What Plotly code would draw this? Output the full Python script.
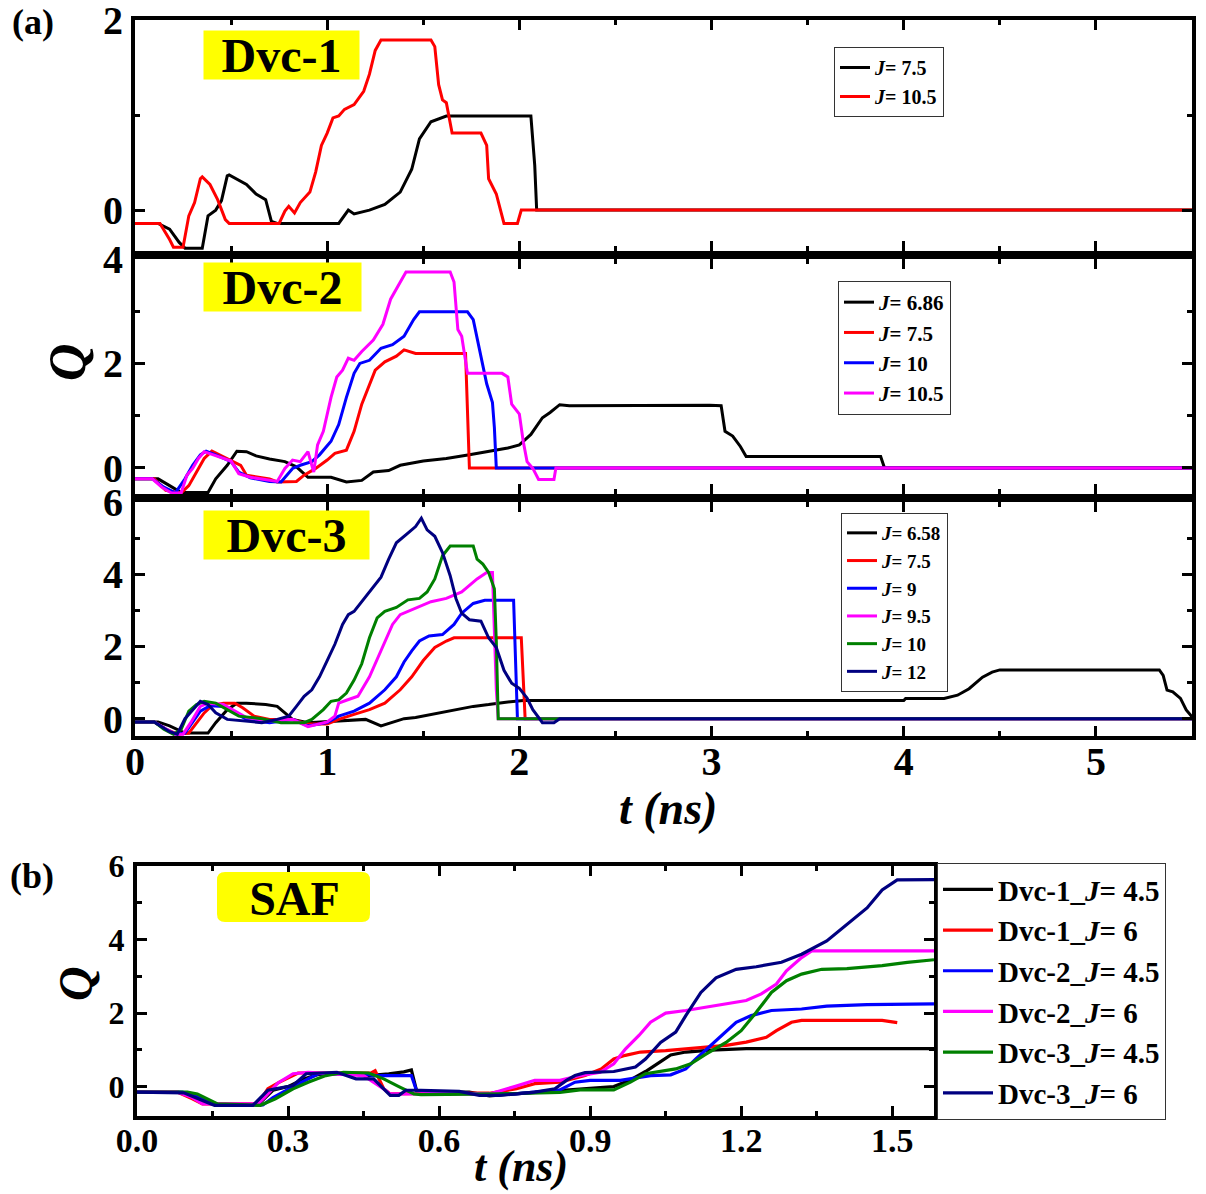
import plotly.graph_objects as go

# ---------------- data ----------------
# Panel (a) Dvc-1
d1_j75_t = [0, 0.12, 0.18, 0.23, 0.26, 0.35, 0.38, 0.42, 0.45, 0.48,
            0.49, 0.58, 0.63, 0.68, 0.71, 0.74, 1.06, 1.11, 1.14, 1.22,
            1.30, 1.38, 1.44, 1.48, 1.54, 1.62, 2.06, 2.08, 2.09, 5.5]
d1_j75_q = [-0.14, -0.14, -0.2, -0.34, -0.40, -0.40, -0.06, 0.0, 0.1, 0.36,
            0.37, 0.27, 0.17, 0.11, -0.12, -0.14, -0.14, 0.0, -0.04, 0.0,
            0.06, 0.19, 0.43, 0.75, 0.93, 0.99, 0.99, 0.47, 0.0, 0.0]
d1_j105_t = [0, 0.13, 0.18, 0.20, 0.25, 0.28, 0.31, 0.34, 0.35, 0.39,
             0.43, 0.47, 0.49, 0.75, 0.78, 0.80, 0.83, 0.86, 0.91, 0.94,
             0.97, 1.0, 1.03, 1.06, 1.09, 1.14, 1.19, 1.22, 1.25, 1.28,
             1.54, 1.56, 1.58, 1.60, 1.62, 1.65, 1.80, 1.83, 1.84, 1.88,
             1.92, 1.99, 2.01, 5.5]
d1_j105_q = [-0.14, -0.14, -0.31, -0.39, -0.39, -0.06, 0.08, 0.33, 0.35, 0.27,
             0.11, -0.10, -0.14, -0.14, -0.01, 0.04, -0.03, 0.08, 0.19, 0.40,
             0.68, 0.81, 0.97, 0.99, 1.06, 1.11, 1.25, 1.43, 1.68, 1.79,
             1.79, 1.72, 1.32, 1.16, 1.13, 0.81, 0.81, 0.68, 0.33, 0.17,
             -0.14, -0.14, 0.0, 0.0]

# Panel (a) Dvc-2
d2_j686_t = [0, 0.12, 0.18, 0.24, 0.38, 0.42, 0.48, 0.53, 0.58, 0.63,
             0.70, 0.78, 0.84, 0.90, 1.02, 1.10, 1.18, 1.24, 1.32, 1.38,
             1.50, 1.62, 1.74, 1.84, 1.94, 2.00, 2.06, 2.12, 2.16, 2.21,
             2.26, 2.99, 3.05, 3.07, 3.11, 3.15, 3.18, 3.88, 3.90, 5.5]
d2_j686_q = [-0.21, -0.21, -0.34, -0.47, -0.47, -0.21, 0.05, 0.32, 0.31, 0.23,
             0.17, 0.12, 0.02, -0.18, -0.18, -0.27, -0.24, -0.08, -0.05, 0.05,
             0.13, 0.18, 0.25, 0.31, 0.38, 0.44, 0.64, 0.96, 1.06, 1.21,
             1.19, 1.20, 1.19, 0.70, 0.61, 0.41, 0.22, 0.22, 0.0, 0.0]
d2_j75_t = [0, 0.10, 0.16, 0.24, 0.28, 0.32, 0.36, 0.40, 0.44, 0.50,
            0.55, 0.58, 0.70, 0.74, 0.84, 0.88, 0.94, 1.00, 1.04, 1.10,
            1.14, 1.18, 1.22, 1.25, 1.30, 1.36, 1.40, 1.46, 1.72, 1.74,
            5.5]
d2_j75_q = [-0.21, -0.21, -0.43, -0.48, -0.34, -0.08, 0.18, 0.32, 0.25, 0.15,
            0.05, -0.14, -0.21, -0.27, -0.26, -0.14, -0.01, 0.15, 0.28, 0.34,
            0.70, 1.22, 1.61, 1.87, 2.03, 2.14, 2.26, 2.19, 2.19, 0.0,
            0.0]
d2_j10_t = [0, 0.09, 0.15, 0.21, 0.26, 0.30, 0.34, 0.37, 0.42, 0.50,
            0.54, 0.60, 0.70, 0.76, 0.82, 0.86, 0.92, 0.96, 1.02, 1.06,
            1.10, 1.14, 1.17, 1.22, 1.28, 1.34, 1.40, 1.45, 1.48, 1.73,
            1.76, 1.80, 1.83, 1.86, 1.87, 1.88, 5.5]
d2_j10_q = [-0.21, -0.21, -0.37, -0.48, -0.21, 0.05, 0.25, 0.32, 0.25, 0.12,
            -0.08, -0.19, -0.26, -0.27, -0.01, 0.05, 0.12, 0.25, 0.51, 0.83,
            1.35, 1.81, 2.00, 2.06, 2.29, 2.36, 2.52, 2.84, 2.99, 2.99,
            2.84, 2.13, 1.61, 1.25, 0.77, 0.0, 0.0]
d2_j105_t = [0, 0.09, 0.14, 0.19, 0.24, 0.27, 0.30, 0.33, 0.36, 0.42,
             0.50, 0.54, 0.60, 0.74, 0.78, 0.82, 0.86, 0.90, 0.92, 0.93,
             0.95, 0.98, 1.02, 1.05, 1.08, 1.11, 1.14, 1.18, 1.24, 1.29,
             1.33, 1.36, 1.41, 1.64, 1.66, 1.68, 1.70, 1.73, 1.91, 1.94,
             1.96, 2.00, 2.02, 2.04, 2.07, 2.10, 2.18, 2.19, 5.5]
d2_j105_q = [-0.21, -0.21, -0.37, -0.48, -0.48, -0.14, -0.01, 0.18, 0.31, 0.23,
             0.13, -0.11, -0.18, -0.26, -0.01, 0.15, 0.12, 0.31, 0.05, -0.08,
             0.44, 0.70, 1.35, 1.74, 1.87, 2.10, 2.06, 2.23, 2.45, 2.75,
             3.23, 3.43, 3.75, 3.75, 3.56, 2.65, 2.52, 1.81, 1.81, 1.74,
             1.22, 1.03, 0.51, 0.12, -0.01, -0.22, -0.22, 0.0, 0.0]

# Panel (a) Dvc-3
d3_j658_t = [0, 0.12, 0.18, 0.26, 0.38, 0.42, 0.48, 0.53, 0.58, 0.68,
             0.74, 0.78, 0.82, 0.90, 1.06, 1.20, 1.28, 1.34, 1.40, 1.46,
             1.52, 1.60, 1.68, 1.76, 1.84, 1.92, 2.02, 4.00, 4.01, 4.21,
             4.28, 4.34, 4.41, 4.46, 4.50, 5.33, 5.35, 5.37, 5.40, 5.44,
             5.47, 5.5]
d3_j658_q = [-0.09, -0.09, -0.2, -0.40, -0.40, -0.11, 0.25, 0.43, 0.43, 0.39,
             0.34, 0.16, -0.02, -0.11, -0.06, -0.02, -0.2, -0.11, 0.0, 0.03,
             0.09, 0.16, 0.25, 0.34, 0.39, 0.45, 0.50, 0.50, 0.56, 0.56,
             0.65, 0.83, 1.15, 1.29, 1.35, 1.35, 1.2, 0.79, 0.74, 0.56,
             0.24, 0.05]
d3_j75_t = [0, 0.10, 0.16, 0.22, 0.28, 0.32, 0.36, 0.40, 0.46, 0.52,
            0.56, 0.62, 0.70, 0.82, 0.90, 1.00, 1.06, 1.14, 1.22, 1.30,
            1.38, 1.44, 1.50, 1.56, 1.62, 1.66, 2.01, 2.03, 5.5]
d3_j75_q = [-0.09, -0.09, -0.29, -0.43, -0.40, -0.11, 0.16, 0.36, 0.43, 0.43,
            0.30, 0.07, -0.02, -0.02, -0.15, -0.15, -0.02, 0.12, 0.25, 0.43,
            0.80, 1.16, 1.61, 1.97, 2.15, 2.24, 2.24, 0.0, 0.0]
d3_j9_t = [0, 0.10, 0.16, 0.21, 0.26, 0.30, 0.34, 0.39, 0.46, 0.52,
           0.58, 0.70, 0.82, 0.90, 1.00, 1.06, 1.14, 1.22, 1.30, 1.36,
           1.40, 1.44, 1.48, 1.53, 1.60, 1.66, 1.70, 1.76, 1.82, 1.97,
           1.99, 5.5]
d3_j9_q = [-0.09, -0.09, -0.29, -0.43, -0.40, -0.11, 0.21, 0.36, 0.34, 0.16,
           -0.02, -0.11, -0.02, -0.2, -0.11, 0.07, 0.21, 0.43, 0.80, 1.16,
           1.57, 1.88, 2.15, 2.29, 2.33, 2.61, 2.92, 3.19, 3.28, 3.28,
           0.0, 0.0]
d3_j95_t = [0, 0.10, 0.16, 0.21, 0.25, 0.29, 0.34, 0.38, 0.46, 0.52,
            0.58, 0.70, 0.82, 0.90, 1.00, 1.04, 1.06, 1.10, 1.16, 1.22,
            1.28, 1.34, 1.38, 1.42, 1.48, 1.54, 1.62, 1.70, 1.78, 1.83,
            1.86, 1.87, 1.88, 1.89, 5.5]
d3_j95_q = [-0.09, -0.09, -0.29, -0.43, -0.43, -0.11, 0.34, 0.43, 0.39, 0.21,
            0.03, -0.06, -0.02, -0.22, -0.09, 0.07, 0.43, 0.51, 0.62, 1.16,
            1.88, 2.61, 2.88, 2.97, 3.10, 3.24, 3.33, 3.51, 3.87, 4.05,
            4.05, 2.52, 0.8, 0.0, 0.0]
d3_j10_t = [0, 0.10, 0.15, 0.20, 0.24, 0.28, 0.32, 0.36, 0.42, 0.48,
            0.54, 0.66, 0.76, 0.88, 0.92, 0.98, 1.02, 1.06, 1.10, 1.14,
            1.18, 1.22, 1.26, 1.30, 1.36, 1.42, 1.48, 1.52, 1.56, 1.60,
            1.64, 1.76, 1.78, 1.81, 1.84, 1.87, 1.88, 1.89, 5.5]
d3_j10_q = [-0.09, -0.09, -0.29, -0.43, -0.30, 0.21, 0.39, 0.48, 0.43, 0.25,
            0.07, 0.0, -0.11, -0.11, -0.02, 0.25, 0.48, 0.52, 0.71, 1.07,
            1.52, 2.24, 2.79, 2.97, 3.08, 3.29, 3.33, 3.51, 3.87, 4.51,
            4.78, 4.78, 4.42, 4.28, 4.05, 3.6, 2.15, 0.0, 0.0]
d3_j12_t = [0, 0.10, 0.18, 0.22, 0.26, 0.30, 0.34, 0.38, 0.42, 0.48,
            0.58, 0.66, 0.74, 0.80, 0.84, 0.88, 0.92, 0.96, 1.00, 1.04,
            1.08, 1.11, 1.14, 1.18, 1.22, 1.28, 1.32, 1.36, 1.42, 1.46,
            1.49, 1.52, 1.56, 1.60, 1.64, 1.67, 1.70, 1.74, 1.80, 1.84,
            1.88, 1.92, 1.96, 2.00, 2.04, 2.07, 2.12, 2.18, 2.21, 5.5]
d3_j12_q = [-0.09, -0.09, -0.36, -0.43, 0.0, 0.25, 0.48, 0.39, 0.16, -0.02,
            -0.06, -0.11, -0.02, 0.07, 0.34, 0.62, 0.80, 1.16, 1.61, 2.06,
            2.61, 2.88, 2.97, 3.24, 3.51, 3.92, 4.42, 4.87, 5.14, 5.32,
            5.55, 5.23, 5.05, 4.60, 3.96, 3.33, 2.92, 2.74, 2.70, 2.24,
            1.97, 1.34, 0.98, 0.84, 0.57, 0.25, -0.11, -0.11, 0.0, 0.0]

# Panel (b) SAF
s_d1_45_t = [0, 0.08, 0.11, 0.15, 0.18, 0.24, 0.27, 0.30, 0.33, 0.36,
             0.42, 0.46, 0.50, 0.53, 0.545, 0.555, 0.58, 0.66, 0.70, 0.75,
             0.80, 0.85, 0.90, 0.947, 0.98, 1.01, 1.04, 1.06, 1.09, 1.14,
             1.21, 1.583]
s_d1_45_q = [-0.15, -0.15, -0.2, -0.45, -0.5, -0.5, -0.1, 0.0, 0.2, 0.33,
             0.35, 0.3, 0.35, 0.4, 0.45, -0.1, -0.15, -0.15, -0.25, -0.2,
             -0.15, -0.1, -0.05, 0.0, 0.18, 0.41, 0.68, 0.86, 0.94, 0.99,
             1.03, 1.03]
s_d1_6_t = [0, 0.08, 0.11, 0.13, 0.24, 0.26, 0.283, 0.31, 0.32, 0.465,
            0.473, 0.49, 0.503, 0.60, 0.70, 0.754, 0.79, 0.84, 0.89, 0.922,
            0.947, 0.97, 1.00, 1.05, 1.11, 1.17, 1.21, 1.25, 1.27, 1.30,
            1.32, 1.48, 1.51]
s_d1_6_q = [-0.15, -0.15, -0.33, -0.47, -0.47, -0.06, 0.12, 0.30, 0.37, 0.37,
            0.43, -0.06, -0.2, -0.18, -0.18, -0.06, 0.08, 0.12, 0.30, 0.48,
            0.75, 0.85, 0.94, 0.98, 1.05, 1.12, 1.21, 1.34, 1.52, 1.75,
            1.80, 1.80, 1.74]
s_d2_45_t = [0, 0.09, 0.13, 0.16, 0.25, 0.27, 0.31, 0.36, 0.45, 0.47,
             0.545, 0.555, 0.60, 0.68, 0.75, 0.80, 0.84, 0.87, 0.90, 0.96,
             1.00, 1.02, 1.06, 1.09, 1.11, 1.14, 1.17, 1.19, 1.22, 1.26,
             1.32, 1.37, 1.45, 1.583]
s_d2_45_q = [-0.15, -0.15, -0.3, -0.5, -0.5, -0.3, 0.0, 0.35, 0.35, 0.3,
             0.3, -0.1, -0.15, -0.2, -0.2, -0.15, -0.09, 0.12, 0.17, 0.17,
             0.26, 0.30, 0.32, 0.48, 0.75, 1.12, 1.48, 1.75, 1.93, 2.07,
             2.11, 2.19, 2.23, 2.25]
s_d2_6_t = [0, 0.08, 0.11, 0.13, 0.24, 0.253, 0.28, 0.31, 0.34, 0.45,
            0.49, 0.503, 0.60, 0.70, 0.75, 0.79, 0.84, 0.88, 0.92, 0.947,
            0.97, 0.997, 1.02, 1.05, 1.09, 1.13, 1.17, 1.21, 1.24, 1.27,
            1.29, 1.32, 1.34, 1.583]
s_d2_6_q = [-0.15, -0.15, -0.3, -0.47, -0.47, -0.3, 0.1, 0.35, 0.39, 0.3,
            -0.06, -0.2, -0.2, -0.2, 0.0, 0.17, 0.17, 0.30, 0.39, 0.62,
            1.02, 1.39, 1.75, 2.0, 2.07, 2.16, 2.25, 2.34, 2.52, 2.79,
            3.15, 3.51, 3.69, 3.69]
s_d3_45_t = [0, 0.10, 0.12, 0.16, 0.245, 0.275, 0.31, 0.34, 0.375, 0.41,
             0.46, 0.49, 0.52, 0.55, 0.564, 0.72, 0.84, 0.88, 0.947, 0.98,
             1.01, 1.04, 1.07, 1.10, 1.13, 1.17, 1.20, 1.23, 1.26, 1.29,
             1.32, 1.36, 1.41, 1.48, 1.53, 1.583]
s_d3_45_q = [-0.15, -0.15, -0.2, -0.47, -0.51, -0.33, -0.06, 0.12, 0.30, 0.39,
             0.37, 0.21, 0.0, -0.2, -0.22, -0.2, -0.16, -0.09, -0.09, 0.12,
             0.35, 0.41, 0.48, 0.62, 0.88, 1.20, 1.52, 2.02, 2.56, 2.88,
             3.06, 3.19, 3.21, 3.29, 3.38, 3.45]
s_d3_6_t = [0, 0.093, 0.13, 0.154, 0.23, 0.26, 0.31, 0.336, 0.397, 0.435,
            0.47, 0.49, 0.503, 0.52, 0.534, 0.564, 0.64, 0.68, 0.72, 0.754,
            0.79, 0.83, 0.853, 0.87, 0.89, 0.947, 0.99, 1.01, 1.04, 1.07,
            1.09, 1.12, 1.15, 1.19, 1.23, 1.28, 1.32, 1.37, 1.41, 1.45,
            1.48, 1.51, 1.583]
s_d3_6_q = [-0.15, -0.17, -0.38, -0.51, -0.51, -0.1, 0.03, 0.35, 0.39, 0.21,
            0.21, -0.06, -0.24, -0.24, -0.1, -0.1, -0.13, -0.24, -0.24, -0.2,
            -0.15, -0.06, 0.17, 0.30, 0.38, 0.41, 0.53, 0.75, 1.20, 1.48,
            1.93, 2.56, 2.96, 3.19, 3.26, 3.38, 3.6, 3.96, 4.41, 4.86,
            5.35, 5.62, 5.63]

# legend labels
labels_d1 = ["<i>J</i>= 7.5", "<i>J</i>= 10.5"]
labels_d2 = ["<i>J</i>= 6.86", "<i>J</i>= 7.5", "<i>J</i>= 10", "<i>J</i>= 10.5"]
labels_d3 = ["<i>J</i>= 6.58", "<i>J</i>= 7.5", "<i>J</i>= 9", "<i>J</i>= 9.5",
             "<i>J</i>= 10", "<i>J</i>= 12"]
labels_saf = ["Dvc-1_<i>J</i>= 4.5", "Dvc-1_<i>J</i>= 6", "Dvc-2_<i>J</i>= 4.5",
              "Dvc-2_<i>J</i>= 6", "Dvc-3_<i>J</i>= 4.5", "Dvc-3_<i>J</i>= 6"]

# ---------------- styling ----------------
W, H = 1206, 1194
FONT = "Liberation Serif"
BLACK, RED, BLUE, MAG, GREEN, NAVY = "#000000", "#ff0000", "#0000ff", "#ff00ff", "#008000", "#000080"


def fx(p):
    return p / W


def fy(p):
    return 1 - p / H


fig = go.Figure()


def add(t, q, name, color, xa, ya, leg, lw=3):
    fig.add_trace(go.Scatter(x=t, y=q, mode="lines", name=name,
                             line=dict(color=color, width=lw),
                             xaxis=xa, yaxis=ya, legend=leg))


add(d1_j75_t, d1_j75_q, labels_d1[0], BLACK, "x", "y", "legend")
add(d1_j105_t, d1_j105_q, labels_d1[1], RED, "x", "y", "legend")

add(d2_j686_t, d2_j686_q, labels_d2[0], BLACK, "x2", "y2", "legend2")
add(d2_j75_t, d2_j75_q, labels_d2[1], RED, "x2", "y2", "legend2")
add(d2_j10_t, d2_j10_q, labels_d2[2], BLUE, "x2", "y2", "legend2")
add(d2_j105_t, d2_j105_q, labels_d2[3], MAG, "x2", "y2", "legend2")

add(d3_j658_t, d3_j658_q, labels_d3[0], BLACK, "x3", "y3", "legend3")
add(d3_j75_t, d3_j75_q, labels_d3[1], RED, "x3", "y3", "legend3")
add(d3_j9_t, d3_j9_q, labels_d3[2], BLUE, "x3", "y3", "legend3")
add(d3_j95_t, d3_j95_q, labels_d3[3], MAG, "x3", "y3", "legend3")
add(d3_j10_t, d3_j10_q, labels_d3[4], GREEN, "x3", "y3", "legend3")
add(d3_j12_t, d3_j12_q, labels_d3[5], NAVY, "x3", "y3", "legend3")

add(s_d1_45_t, s_d1_45_q, labels_saf[0], BLACK, "x4", "y4", "legend4", 3.2)
add(s_d1_6_t, s_d1_6_q, labels_saf[1], RED, "x4", "y4", "legend4", 3.2)
add(s_d2_45_t, s_d2_45_q, labels_saf[2], BLUE, "x4", "y4", "legend4", 3.2)
add(s_d2_6_t, s_d2_6_q, labels_saf[3], MAG, "x4", "y4", "legend4", 3.2)
add(s_d3_45_t, s_d3_45_q, labels_saf[4], GREEN, "x4", "y4", "legend4", 3.2)
add(s_d3_6_t, s_d3_6_q, labels_saf[5], NAVY, "x4", "y4", "legend4", 3.2)


def axis(**kw):
    base = dict(showline=True, linewidth=4, linecolor="black", mirror="allticks",
                ticks="inside", ticklen=10, tickwidth=3, tickcolor="black",
                showgrid=False, zeroline=False, fixedrange=True, automargin=False,
                ticklabeloverflow="allow",
                tickfont=dict(family=FONT, size=40, color="black", weight="bold"))
    base.update(kw)
    return base


xa_dom = [fx(135), fx(1192)]
minor_x = dict(ticks="inside", ticklen=5, tickwidth=3, tickcolor="black", dtick=0.5, showgrid=False)
minor_y = dict(ticks="inside", ticklen=5, tickwidth=3, tickcolor="black", dtick=1, showgrid=False)

fig.update_layout(
    width=W, height=H,
    margin=dict(l=0, r=0, t=0, b=0, autoexpand=False),
    paper_bgcolor="white", plot_bgcolor="white",
    font=dict(family=FONT, color="black"),
    xaxis=axis(domain=xa_dom, anchor="y", range=[0, 5.5], dtick=1, tick0=0,
               showticklabels=False, minor=minor_x),
    yaxis=axis(domain=[fy(251), fy(20)], anchor="x", range=[-0.43, 2], dtick=2, tick0=0,
               minor=minor_y, ticklabelstandoff=0),
    xaxis2=axis(domain=xa_dom, anchor="y2", range=[0, 5.5], dtick=1, tick0=0,
                showticklabels=False, minor=minor_x),
    yaxis2=axis(domain=[fy(494), fy(259)], anchor="x2", range=[-0.5, 4], dtick=2, tick0=0,
                minor=minor_y, ticklabelstandoff=0),
    xaxis3=axis(domain=xa_dom, anchor="y3", range=[0, 5.5], dtick=1, tick0=0,
                minor=minor_x, ticklabelstandoff=-13),
    yaxis3=axis(domain=[fy(736), fy(502)], anchor="x3", range=[-0.48, 6], dtick=2, tick0=0,
                minor=minor_y, ticklabelstandoff=0),
    xaxis4=axis(domain=[fx(137), fx(934)], anchor="y4", range=[0, 1.583], dtick=0.3, tick0=0,
                tickformat=".1f", tickfont=dict(family=FONT, size=34, color="black", weight="bold"),
                minor=dict(ticks="inside", ticklen=5, tickwidth=3, tickcolor="black", dtick=0.15,
                           showgrid=False), ticklabelstandoff=-9),
    yaxis4=axis(domain=[fy(1116), fy(866)], anchor="x4", range=[-0.8, 6], dtick=2, tick0=0,
                tickfont=dict(family=FONT, size=32, color="black", weight="bold"),
                minor=minor_y, ticklabelstandoff=2),
    legend=dict(x=fx(834), y=fy(47), xanchor="left", yanchor="top", bgcolor="white",
                bordercolor="#333333", borderwidth=1, tracegroupgap=0,
                font=dict(family=FONT, size=20, color="black", weight="bold")),
    legend2=dict(x=fx(838), y=fy(281), xanchor="left", yanchor="top", bgcolor="white",
                 bordercolor="#333333", borderwidth=1, tracegroupgap=0,
                 font=dict(family=FONT, size=21, color="black", weight="bold")),
    legend3=dict(x=fx(841), y=fy(513), xanchor="left", yanchor="top", bgcolor="white",
                 bordercolor="#333333", borderwidth=1, tracegroupgap=0,
                 font=dict(family=FONT, size=19, color="black", weight="bold")),
    legend4=dict(x=fx(937), y=fy(863), xanchor="left", yanchor="top", bgcolor="white",
                 bordercolor="#333333", borderwidth=1, tracegroupgap=0, itemwidth=50,
                 font=dict(family=FONT, size=29, color="black", weight="bold")),
)

# rounded yellow box behind the "SAF" label (pixel-sized path anchored on paper)
sx, sy, sw, sh, sr = 217, 872, 153, 50, 8
saf_path = (f"M {sr},0 L {sw - sr},0 Q {sw},0 {sw},{-sr} L {sw},{-(sh - sr)} "
            f"Q {sw},{-sh} {sw - sr},{-sh} L {sr},{-sh} Q 0,{-sh} 0,{-(sh - sr)} "
            f"L 0,{-sr} Q 0,0 {sr},0 Z")
fig.add_shape(type="path", xref="paper", yref="paper", xsizemode="pixel", ysizemode="pixel",
              xanchor=fx(sx), yanchor=fy(sy), path=saf_path,
              fillcolor="#ffff00", line=dict(width=0), layer="above")

ann = []


def label_box(text, left, top, w, h, size, bg="#ffff00"):
    ann.append(dict(text=text, x=fx(left), y=fy(top), xref="paper", yref="paper",
                    xanchor="left", yanchor="top", showarrow=False, bgcolor=bg,
                    width=w, height=h, borderpad=0, align="center", valign="middle",
                    font=dict(family=FONT, size=size, color="black", weight="bold")))


label_box("Dvc-1", 203, 30, 155, 48, 48)
label_box("Dvc-2", 203, 262, 157, 48, 48)
label_box("Dvc-3", 203, 510, 165, 48, 48)
label_box("SAF", sx, sy, sw, sh, 48, bg="rgba(0,0,0,0)")


def text(t, cx, cy, size, italic=False, angle=0):
    ann.append(dict(text=t, x=fx(cx), y=fy(cy), xref="paper", yref="paper",
                    xanchor="center", yanchor="middle", showarrow=False, textangle=angle,
                    font=dict(family=FONT, size=size, color="black", weight="bold",
                              style="italic" if italic else "normal")))


text("(a)", 33, 22, 36)
text("(b)", 32, 876, 36)
text("t (ns)", 668, 808, 46, italic=True)
text("t (ns)", 521, 1166, 44, italic=True)
text("Q", 67, 362, 52, italic=True, angle=-90)
text("Q", 75, 984, 48, italic=True, angle=-90)

fig.update_layout(annotations=ann)

fig.write_html("out.html", config={"displayModeBar": False},
               post_script="document.body.style.margin='0px';document.body.style.overflow='hidden';")
